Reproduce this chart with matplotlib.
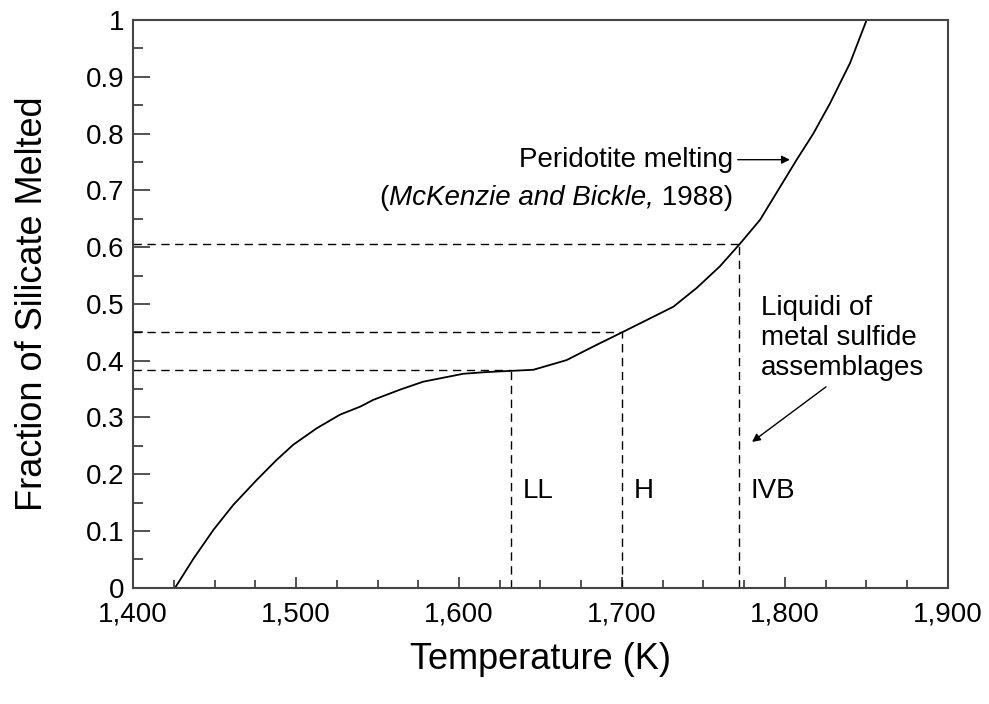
import numpy as np
import matplotlib.pyplot as plt
from matplotlib.ticker import MultipleLocator, FuncFormatter

plt.rcParams['font.family'] = ['Liberation Sans', 'DejaVu Sans']

# peridotite melting curve
temp_k = [1425.8, 1437.0, 1449.3, 1461.5, 1475.9, 1488.0, 1498.3, 1512.7, 1527.0,
          1539.3, 1547.4, 1563.8, 1578.0, 1602.6, 1617.0, 1631.3, 1645.6, 1666.0,
          1682.4, 1700.8, 1731.5, 1745.8, 1760.0, 1772.4, 1784.7, 1807.2, 1817.4,
          1827.6, 1839.9, 1850.1]
frac_melt = [0.0, 0.051, 0.102, 0.146, 0.19, 0.225, 0.252, 0.281, 0.305,
             0.319, 0.331, 0.349, 0.363, 0.377, 0.380, 0.382, 0.384, 0.401,
             0.425, 0.451, 0.495, 0.528, 0.566, 0.606, 0.648, 0.754, 0.800,
             0.853, 0.924, 1.0]

# liquidus temperatures of metal sulfide assemblages and matching melt fraction
groups = ["LL", "H", "IVB"]
liquidus_t = [1632, 1700, 1772]
liquidus_f = [0.383, 0.450, 0.605]


def main():
  fig = plt.figure(figsize=(9.89, 7.04), dpi=100)
  ax = fig.add_axes([0.1345, 0.165, 0.824, 0.8066])

  ax.plot(temp_k, frac_melt, color="black", lw=1.3)

  for g, t, f in zip(groups, liquidus_t, liquidus_f):
    ax.plot([1400, t], [f, f], color="black", lw=1.0, dashes=(6, 4))
    ax.plot([t, t], [0, f], color="black", lw=1.0, dashes=(6, 4))
    ax.text(t + 7, 0.17, g, fontsize=20, ha="left", va="center")

  ax.text(1768, 0.754, "Peridotite melting", fontsize=20, ha="right", va="center")
  # citation line: mixed upright / italic pieces chained right to left
  t1 = ax.text(1768, 0.687, " 1988)", fontsize=20, ha="right", va="center")
  t2 = ax.annotate("McKenzie and Bickle,", xy=(0, 0.5), xycoords=t1, fontsize=20,
                   style="italic", ha="right", va="center")
  ax.annotate("(", xy=(0, 0.5), xycoords=t2, fontsize=20, ha="right", va="center")
  ax.annotate("", xy=(1803, 0.754), xytext=(1771, 0.754),
              arrowprops=dict(arrowstyle="-|>", color="black", lw=1.0,
                              mutation_scale=12, shrinkA=0, shrinkB=0))

  ax.text(1785, 0.44, "Liquidi of\nmetal sulfide\nassemblages", fontsize=20,
          ha="left", va="center", linespacing=1.2)
  ax.annotate("", xy=(1779.8, 0.257), xytext=(1825.2, 0.354),
              arrowprops=dict(arrowstyle="-|>", color="black", lw=1.0,
                              mutation_scale=12, shrinkA=0, shrinkB=0))

  ax.set_xlim(1400, 1900)
  ax.set_ylim(0, 1)
  ax.xaxis.set_major_locator(MultipleLocator(100))
  ax.xaxis.set_minor_locator(MultipleLocator(25))
  ax.yaxis.set_major_locator(MultipleLocator(0.1))
  ax.yaxis.set_minor_locator(MultipleLocator(0.05))
  ax.xaxis.set_major_formatter(FuncFormatter(lambda v, p: f"{v:,.0f}"))
  ax.yaxis.set_major_formatter(FuncFormatter(lambda v, p: f"{v:.1f}".rstrip("0").rstrip(".")))

  for s in ax.spines.values():
    s.set_color("#444444")
    s.set_linewidth(1.5)
  ax.tick_params(axis="both", which="both", direction="in", color="#444444",
                 labelsize=20, top=False, right=False)
  ax.tick_params(axis="x", which="major", length=8, width=1.3, pad=10)
  ax.tick_params(axis="x", which="minor", length=5.5, width=1.3)
  ax.tick_params(axis="y", which="major", length=12, width=1.3, pad=6)
  ax.tick_params(axis="y", which="minor", length=7, width=1.3)

  ax.set_xlabel("Temperature (K)", fontsize=26, labelpad=10)
  ax.set_ylabel("Fraction of Silicate Melted", fontsize=26, labelpad=26)

  fig.savefig("out.png", dpi=100)


if __name__ == "__main__":
  main()
